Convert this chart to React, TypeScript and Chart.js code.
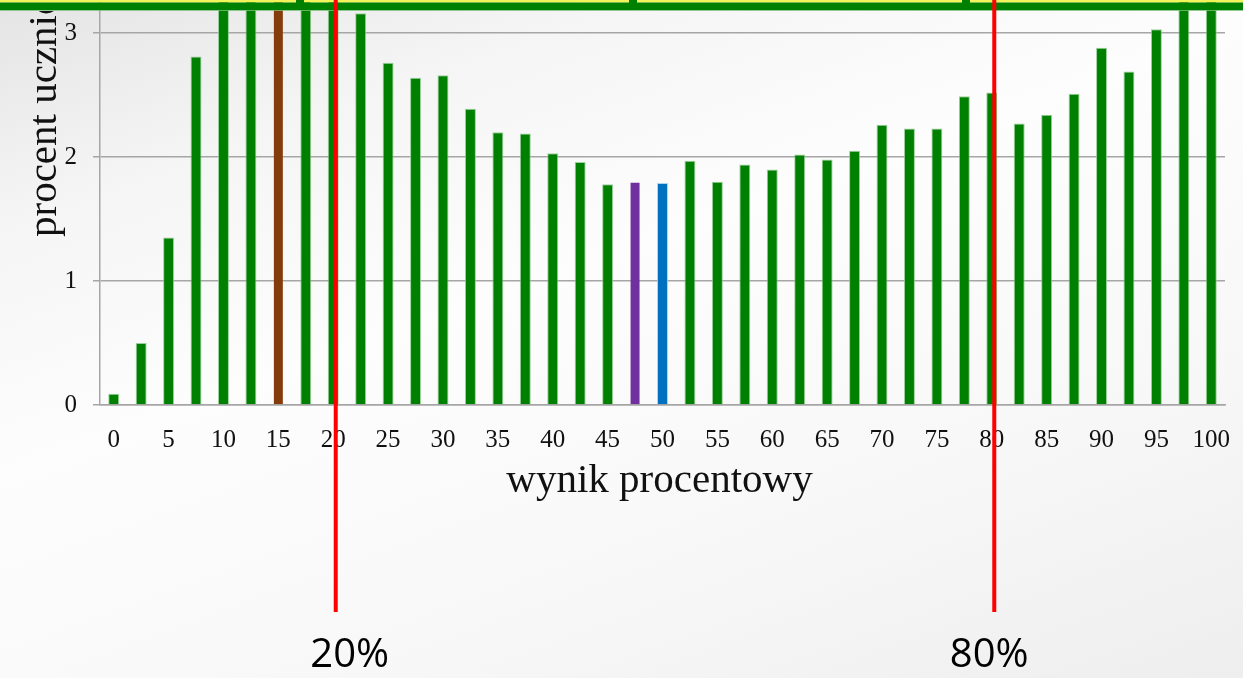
import React, { useEffect, useRef } from "react";
import { Chart, registerables } from "chart.js";

Chart.register(...registerables);

// score categories (wynik procentowy)
const scores = [
  0, 2.5, 5, 7.5, 10, 12.5, 15, 17.5, 20, 22.5, 25, 27.5, 30, 32.5, 35, 37.5, 40,
  42.5, 45, 47.5, 50, 52.5, 55, 57.5, 60, 62.5, 65, 67.5, 70, 72.5, 75, 77.5, 80,
  82.5, 85, 87.5, 90, 92.5, 95, 97.5, 100,
];

// procent uczniów
const percentStudents = [
  0.09, 0.5, 1.35, 2.81, 3.6, 3.8, 3.9, 3.7, 3.5, 3.16, 2.76, 2.64, 2.66, 2.39,
  2.2, 2.19, 2.03, 1.96, 1.78, 1.8, 1.79, 1.97, 1.8, 1.94, 1.9, 2.02, 1.98, 2.05,
  2.26, 2.23, 2.23, 2.49, 2.52, 2.27, 2.34, 2.51, 2.88, 2.69, 3.03, 3.4, 3.6,
];

const yTicks = [0, 1, 2, 3];
const thresholds = [20, 80];
const thresholdLabels = ["20%", "80%"];

const xTitle = "wynik procentowy";
const yTitle = "procent uczniów";

const SERIF = '"Liberation Serif", "Times New Roman", serif';
const SANS = '"Open Sans", "Liberation Sans", sans-serif';

function barColor(score: number): string {
  if (score === 15) return "#843c0c";
  if (score === 47.5) return "#7030a0";
  if (score === 50) return "#0070c0";
  return "#008000";
}

function barBorder(score: number): string {
  if (score === 15 || score === 47.5) return "rgba(0,0,0,0)";
  if (score === 50) return "rgba(150,200,240,0.8)";
  return "rgba(140,200,140,0.85)";
}

const overlayPlugin = {
  id: "overlay",
  afterDraw(chart: any) {
    const ctx = chart.ctx as CanvasRenderingContext2D;
    const xs = chart.scales.x;
    const W = chart.width;
    ctx.save();

    // top decorative band
    ctx.fillStyle = "#f3f35a";
    ctx.fillRect(0, 0, W, 2.5);
    ctx.fillStyle = "#008000";
    ctx.fillRect(0, 2.5, W, 7.5);
    ctx.fillStyle = "rgba(120,190,120,0.8)";
    ctx.fillRect(0, 10, W, 1);
    ctx.fillStyle = "#008000";
    [300, 633, 966].forEach((mx) => ctx.fillRect(mx - 4, 0, 8, 10));

    // y title
    ctx.save();
    ctx.beginPath();
    ctx.rect(0, 11, 100, 400);
    ctx.clip();
    ctx.translate(56, 237);
    ctx.rotate(-Math.PI / 2);
    ctx.fillStyle = "#111";
    ctx.font = `41px ${SERIF}`;
    ctx.textAlign = "left";
    ctx.textBaseline = "alphabetic";
    ctx.fillText(yTitle, 0, 0);
    ctx.restore();

    // x title
    ctx.fillStyle = "#111";
    ctx.font = `41px ${SERIF}`;
    ctx.textAlign = "center";
    ctx.textBaseline = "alphabetic";
    ctx.fillText(xTitle, (chart.chartArea.left + chart.chartArea.right) / 2 - 3, 492);

    // threshold lines & labels
    const labelShift = [14, -5];
    thresholds.forEach((t, i) => {
      const idx = scores.indexOf(t);
      const x = xs.getPixelForValue(idx) + 2.5;
      ctx.strokeStyle = "#ff0000";
      ctx.lineWidth = 4;
      ctx.beginPath();
      ctx.moveTo(x, 0);
      ctx.lineTo(x, 612);
      ctx.stroke();
      ctx.fillStyle = "#000";
      ctx.font = `40px ${SANS}`;
      ctx.textAlign = "center";
      ctx.textBaseline = "alphabetic";
      ctx.fillText(thresholdLabels[i], x + labelShift[i], 667);
    });

    ctx.restore();
  },
};

export default function App() {
  const ref = useRef<HTMLCanvasElement | null>(null);

  useEffect(() => {
    if (!ref.current) return;
    const chart = new Chart(ref.current, {
      type: "bar",
      data: {
        labels: scores.map(String),
        datasets: [
          {
            data: percentStudents,
            backgroundColor: scores.map(barColor),
            borderColor: scores.map(barBorder),
            borderWidth: 1,
            barPercentage: 0.4,
            categoryPercentage: 1,
          },
        ],
      },
      options: {
        animation: false,
        responsive: false,
        maintainAspectRatio: false,
        layout: { padding: { top: 0, right: 18, left: 0, bottom: 0 } },
        plugins: {
          legend: { display: false },
          tooltip: { enabled: false },
        },
        scales: {
          x: {
            grid: { display: false },
            border: { display: true, color: "#a6a6a6", width: 1.5 },
            ticks: {
              autoSkip: false,
              maxRotation: 0,
              minRotation: 0,
              padding: 12,
              color: "#111",
              font: { family: SERIF, size: 25 },
              callback: (_v: any, i: number) =>
                scores[i] % 5 === 0 ? String(scores[i]) : "",
            },
            afterFit: (s: any) => {
              s.height = 273;
              s.paddingLeft = 0;
              s.paddingRight = 0;
            },
          },
          y: {
            min: 0,
            max: 3.266,
            afterBuildTicks: (s: any) => {
              s.ticks = yTicks.map((v) => ({ value: v }));
            },
            grid: { color: "#a6a6a6", lineWidth: 1.5, tickLength: 7 },
            border: { display: true, color: "#a6a6a6", width: 1.5 },
            ticks: {
              padding: 16,
              color: "#111",
              font: { family: SERIF, size: 25 },
            },
            afterFit: (s: any) => {
              s.width = 100;
              s.paddingTop = 0;
              s.paddingBottom = 0;
            },
          },
        },
      },
      plugins: [overlayPlugin],
    });
    return () => chart.destroy();
  }, []);

  return (
    <div
      style={{
        position: "fixed",
        left: 0,
        top: 0,
        width: 1243,
        height: 678,
        background:
          "linear-gradient(160deg, #e4e4e4 0%, #f5f5f5 20%, #fdfdfd 42%, #f8f8f8 70%, #eeeeee 100%)",
      }}
    >
      <canvas ref={ref} width={1243} height={678} style={{ display: "block" }} />
    </div>
  );
}
